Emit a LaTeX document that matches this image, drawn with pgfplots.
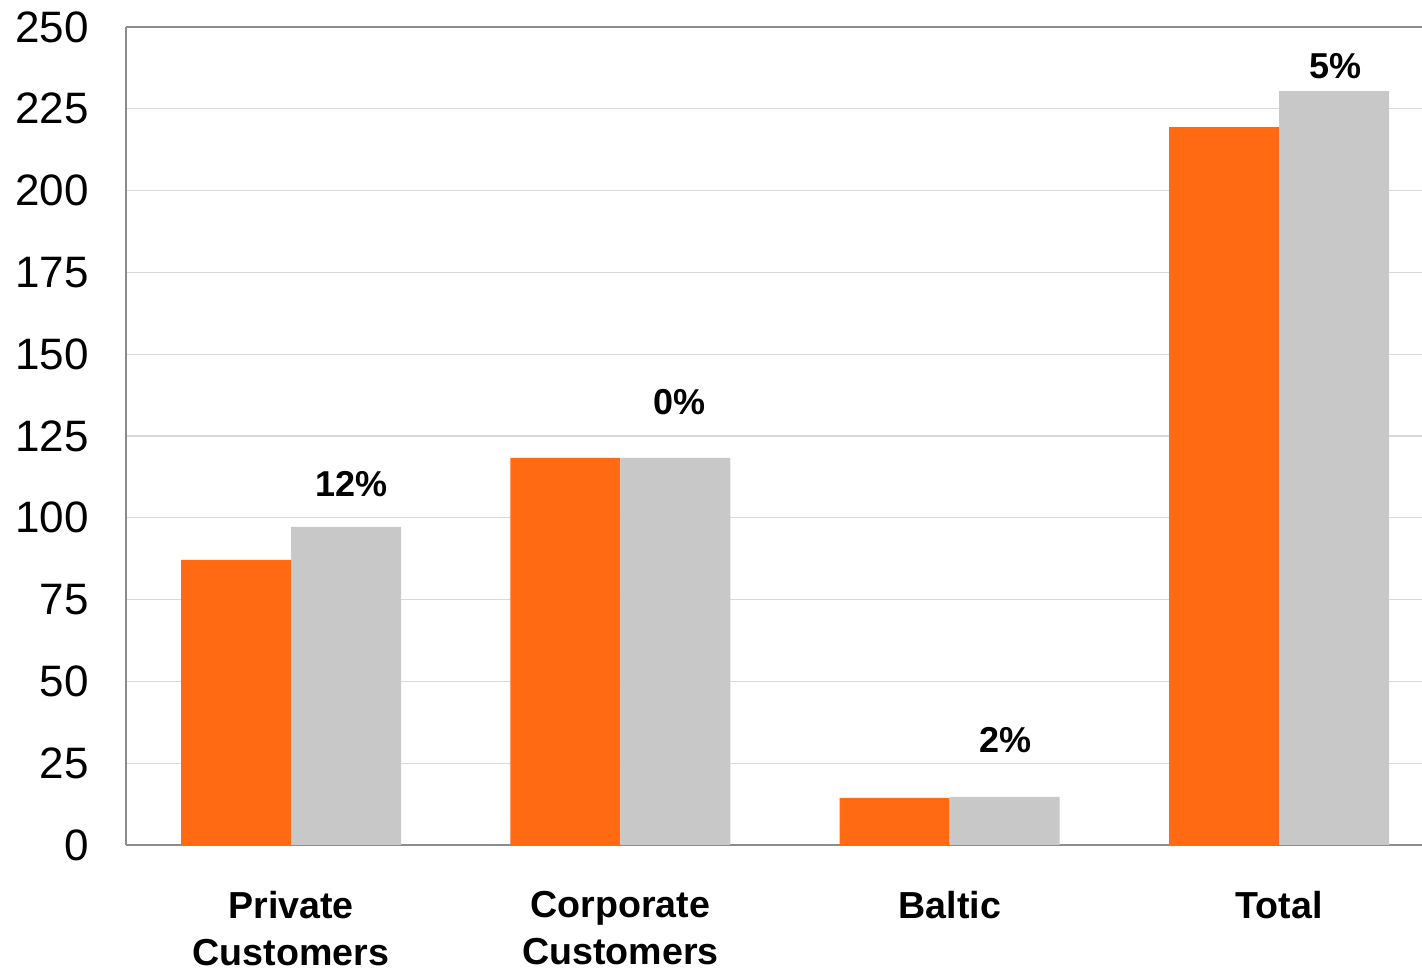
\documentclass[border=0pt]{standalone}
\usepackage{fontspec}
\setmainfont{Liberation Sans}
\usepackage{pgfplots}
\pgfplotsset{compat=1.18}
\definecolor{barorange}{HTML}{FF6A13}
\definecolor{bargray}{HTML}{C8C8C8}
\definecolor{gridgray}{HTML}{D9D9D9}
\definecolor{axisgray}{HTML}{8C8C8C}
\begin{document}
\begin{tikzpicture}
\begin{axis}[
  scale only axis,
  width=648pt, height=409pt,
  xmin=-0.501, xmax=3.434,
  ymin=0, ymax=250,
  ytick={0,25,...,250},
  xtick={0,1,2,3},
  xticklabels={{Private\\Customers},{Corporate\\Customers},{Baltic},{Total}},
  ybar=0pt, bar width=0.334,
  axis x line=box, axis y line=left,
  axis line style={-, draw=axisgray, line width=1pt},
  major tick length=0pt,
  ymajorgrids, grid style={gridgray, line width=0.6pt},
  /pgf/number format/assume math mode=true,
  yticklabel style={font=\fontsize{22}{24}\selectfont, anchor=east, inner sep=0pt, xshift=-18.5pt},
  xticklabel style={font=\fontsize{18.8}{23.5}\selectfont\bfseries, align=center, anchor=north, inner sep=0pt, yshift=-23pt},
  clip=false,
]
\addplot[fill=barorange, draw=none] coordinates {(0,87.1) (1,118.3) (2,14.4) (3,219.4)};
\addplot[fill=bargray, draw=none] coordinates {(0,97.2) (1,118.3) (2,14.7) (3,230.4)};
\node[font=\fontsize{18}{20}\selectfont\bfseries] at (axis cs:0.185,110.3) {12\%};
\node[font=\fontsize{18}{20}\selectfont\bfseries] at (axis cs:1.18,135.4) {0\%};
\node[font=\fontsize{18}{20}\selectfont\bfseries] at (axis cs:2.17,32.1) {2\%};
\node[font=\fontsize{18}{20}\selectfont\bfseries] at (axis cs:3.17,238.1) {5\%};
\coordinate (sw) at (rel axis cs:0,0);
\coordinate (ne) at (rel axis cs:1,1);
\end{axis}
\pgfresetboundingbox
\path ([xshift=-63pt,yshift=-63pt]sw) rectangle ([yshift=13.5pt]ne);
\end{tikzpicture}
\end{document}
